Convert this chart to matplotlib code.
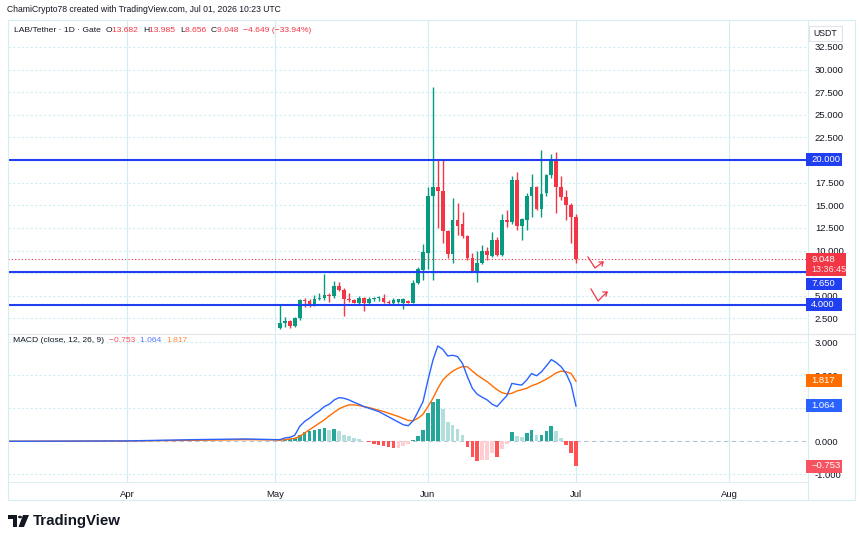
import matplotlib
matplotlib.use('Agg')
import matplotlib.pyplot as plt
import matplotlib.dates as mdates
from matplotlib.lines import Line2D
from matplotlib.patches import Rectangle, Circle, Polygon
import numpy as np
import datetime as dt

plt.rcParams['font.family'] = ['Liberation Sans', 'DejaVu Sans']

# ---------------- data ----------------
first_day = "2026-05-02"
opens  = [1.4, 2.0, 2.2, 1.7, 2.5, 4.5, 4.4, 3.95, 4.6, 4.8,
          5.1, 4.95, 6.1, 5.6, 4.6, 4.5, 4.25, 4.8, 4.25, 4.6,
          4.75, 4.8, 4.3, 4.2, 4.35, 4.25, 4.45, 4.25, 6.4, 7.9,
          9.7, 16.0, 17.0, 16.6, 12.1, 9.6, 13.4, 12.9, 11.6, 9.2,
          7.7, 8.6, 9.9, 9.4, 11.2, 9.5, 13.4, 13.1, 17.8, 12.7,
          13.4, 16.0, 17.0, 14.6, 16.3, 18.3, 19.9, 17.0, 15.9, 15.0,
          13.682]
highs  = [4.0, 2.7, 2.3, 2.6, 4.6, 4.8, 4.6, 5.1, 5.3, 7.4,
          5.3, 6.6, 6.5, 5.9, 5.3, 4.6, 5.0, 4.9, 4.9, 4.9,
          5.0, 5.2, 4.5, 4.7, 4.6, 4.8, 4.5, 6.7, 8.2, 10.7,
          17.0, 28.1, 20.0, 20.0, 12.3, 15.8, 15.2, 14.3, 11.7, 9.7,
          10.0, 10.6, 10.4, 12.0, 11.5, 14.0, 14.5, 18.2, 18.7, 13.6,
          16.4, 18.5, 17.1, 21.1, 18.5, 20.7, 20.9, 18.2, 16.7, 15.2,
          13.985]
lows   = [1.3, 1.5, 1.4, 1.5, 2.3, 3.8, 3.8, 3.9, 4.5, 4.5,
          4.3, 4.8, 5.5, 2.8, 4.3, 4.2, 4.1, 3.3, 4.1, 4.4,
          4.4, 4.2, 4.1, 4.1, 4.2, 3.5, 4.2, 4.2, 6.3, 6.7,
          8.0, 6.7, 12.5, 10.8, 9.2, 8.6, 11.7, 11.4, 9.0, 7.6,
          6.55, 8.5, 8.9, 9.3, 9.4, 9.4, 12.6, 12.9, 12.3, 11.2,
          12.3, 13.7, 14.5, 13.7, 16.0, 18.0, 14.1, 15.6, 13.4, 10.8,
          8.656]
closes = [2.0, 2.2, 1.7, 2.5, 4.5, 4.4, 3.95, 4.6, 4.8, 5.1,
          4.95, 6.1, 5.6, 4.6, 4.5, 4.25, 4.8, 4.25, 4.6, 4.75,
          4.8, 4.3, 4.2, 4.55, 4.6, 4.6, 4.25, 6.4, 8.0, 9.8,
          16.0, 17.0, 16.6, 12.1, 9.6, 13.4, 12.7, 11.6, 9.2, 7.75,
          8.6, 9.9, 9.45, 11.2, 9.5, 13.4, 13.1, 17.8, 12.7, 13.5,
          16.0, 17.0, 14.6, 16.2, 18.3, 19.9, 17.0, 15.9, 15.0, 13.697,
          9.048]

macd_line = [0.05, 0.10, 0.12, 0.18, 0.45, 0.60, 0.70, 0.82, 0.92, 1.05,
             1.12, 1.25, 1.32, 1.30, 1.25, 1.18, 1.12, 1.05, 1.00, 0.95,
             0.90, 0.82, 0.74, 0.66, 0.58, 0.50, 0.47, 0.62, 0.90, 1.20,
             1.85, 2.45, 2.88, 2.78, 2.58, 2.60, 2.56, 2.35, 1.95, 1.60,
             1.42, 1.33, 1.25, 1.12, 1.05, 1.22, 1.38, 1.75, 1.72, 1.70,
             1.85, 2.05, 1.98, 2.10, 2.28, 2.47, 2.38, 2.25, 2.05, 1.72,
             1.064]
signal_line = [0.03, 0.05, 0.07, 0.09, 0.15, 0.25, 0.35, 0.45, 0.55, 0.65,
               0.77, 0.88, 0.98, 1.05, 1.10, 1.10, 1.08, 1.05, 1.02, 0.98,
               0.94, 0.90, 0.85, 0.80, 0.75, 0.69, 0.63, 0.62, 0.70, 0.82,
               1.05, 1.30, 1.60, 1.85, 2.00, 2.12, 2.20, 2.26, 2.25, 2.12,
               2.00, 1.90, 1.80, 1.68, 1.56, 1.47, 1.43, 1.45, 1.52, 1.56,
               1.60, 1.68, 1.73, 1.80, 1.88, 1.97, 2.07, 2.12, 2.10, 2.05,
               1.817]
histogram = [0.02, 0.05, 0.07, 0.10, 0.20, 0.28, 0.30, 0.35, 0.38, 0.40,
             0.35, 0.38, 0.30, 0.20, 0.15, 0.10, 0.06, 0.02, -0.03, -0.08,
             -0.12, -0.15, -0.18, -0.20, -0.19, -0.15, -0.08, 0.05, 0.15, 0.35,
             0.85, 1.18, 1.28, 0.98, 0.58, 0.48, 0.38, 0.18, -0.17, -0.47,
             -0.59, -0.58, -0.57, -0.35, -0.49, -0.22, -0.08, 0.28, 0.15, 0.12,
             0.25, 0.35, 0.18, 0.20, 0.32, 0.46, 0.31, 0.11, -0.12, -0.35,
             -0.753]

# flat MACD values before the candles (sparse readings)
pre_dates  = ["2026-03-08", "2026-04-01", "2026-04-15", "2026-04-25", "2026-05-01"]
pre_macd   = [0.0, 0.01, 0.05, 0.07, 0.05]
pre_signal = [0.0, 0.01, 0.03, 0.05, 0.04]

levels = [20.0, 7.65, 4.0]
last_price = 9.048
countdown = "13:36:45"
price_ticks = [2.5, 5.0, 7.5, 10.0, 12.5, 15.0, 17.5, 20.0, 22.5, 25.0, 27.5, 30.0, 32.5]
hidden_price_ticks = [7.5, 20.0]
macd_ticks = [-1.0, 0.0, 1.0, 2.0, 3.0]
hidden_macd_ticks = [1.0]
month_labels = ["Apr", "May", "Jun", "Jul", "Aug"]
month_starts = ["2026-04-01", "2026-05-01", "2026-06-01", "2026-07-01", "2026-08-01"]

# ---------------- figure ----------------
W, H = 860, 543
fig = plt.figure(figsize=(W / 100, H / 100), dpi=100)
fig.patch.set_facecolor('white')

def fx(px):
    return px / W

def fy(py):
    return 1 - py / H

DARK = '#131722'
UP = '#089981'
DOWN = '#f23645'
BLUE = '#2962ff'
ORANGE = '#ff6d00'
GRID = '#cdeef4'
LEVEL = '#1f3ff0'

ax1 = fig.add_axes([fx(8), fy(333), fx(808) - fx(8), fy(20) - fy(333)])
ax2 = fig.add_axes([fx(8), fy(482), fx(808) - fx(8), fy(334) - fy(482)])

d0 = mdates.date2num(dt.date(2026, 4, 1))
ppd = 4.934
xlim = (d0 - (127 - 8) / ppd, d0 + (808 - 127) / ppd)

base = dt.date.fromisoformat(first_day)
xd = np.array([mdates.date2num(base + dt.timedelta(days=i)) for i in range(len(opens))])
o = np.array(opens); h = np.array(highs); l = np.array(lows); c = np.array(closes)

ms = [mdates.date2num(dt.date.fromisoformat(m)) for m in month_starts]
for ax in (ax1, ax2):
    ax.set_xlim(*xlim)
    for s in ax.spines.values():
        s.set_visible(False)
    ax.set_facecolor('white')
    for m in ms:
        ax.axvline(m, color=GRID, lw=0.8, zorder=0)

# price pane
ax1.set_ylim(20 - 173 / 9.05, 20 + 140 / 9.05)
for t in price_ticks:
    ax1.axhline(t, color=GRID, lw=0.8, ls=(0, (2, 2)), zorder=0)

cols = np.where(c >= o, UP, DOWN)
ax1.vlines(xd, l, h, colors=cols, lw=1.0, zorder=3)
body_lo = np.minimum(o, c)
body_h = np.maximum(np.abs(c - o), 0.1)
ax1.bar(xd, body_h, bottom=body_lo, width=0.75, color=cols, edgecolor='none', zorder=4)

for lv in levels:
    ax1.axhline(lv, color=LEVEL, lw=1.5, zorder=5)
ax1.axhline(last_price, color=DOWN, lw=0.8, ls=(0, (1, 2)), zorder=2)

ax1.yaxis.tick_right()
ax1.set_yticks(price_ticks)
ax1.set_yticklabels(["" if t in hidden_price_ticks else f"{t:.3f}" for t in price_ticks])
ax1.tick_params(axis='y', length=0, labelsize=6.8, colors=DARK, pad=5)
ax1.set_xticks([])

# red hand-drawn arrows
arrows = [[(588, 257), (595, 268), (603, 262)], [(591, 289), (598, 301), (607, 292)]]
for pts in arrows:
    xs = [fx(p[0]) for p in pts]; ys = [fy(p[1]) for p in pts]
    fig.add_artist(Line2D(xs, ys, color='#f23645', lw=0.9, transform=fig.transFigure))
    ex, ey = pts[-1]
    fig.add_artist(Line2D([fx(ex - 4), fx(ex), fx(ex - 1)], [fy(ey), fy(ey), fy(ey + 4)],
                          color='#f23645', lw=0.9, transform=fig.transFigure))

# MACD pane
ax2.set_ylim(-41 / 33.3, 108 / 33.3)
for t in macd_ticks:
    if t == 0:
        ax2.axhline(0, color='#b7c6d4', lw=0.8, ls=(0, (4, 3)), zorder=0)
    else:
        ax2.axhline(t, color=GRID, lw=0.8, ls=(0, (2, 2)), zorder=0)
hist = np.array(histogram)
hcols = []
for i, v in enumerate(hist):
    prev = hist[i - 1] if i > 0 else 0
    if v >= 0:
        hcols.append('#26a69a' if v >= prev else '#b2dfdb')
    else:
        hcols.append('#ff5252' if v < prev else '#ffcdd2')
ax2.bar(xd, hist, width=0.75, color=hcols, edgecolor='none', zorder=2)
pre_x = [mdates.date2num(dt.date.fromisoformat(d)) for d in pre_dates]
ax2.plot(pre_x + list(xd), pre_macd + macd_line, color=BLUE, lw=1.0, zorder=4)
ax2.plot(pre_x + list(xd), pre_signal + signal_line, color=ORANGE, lw=1.0, zorder=3)

ax2.yaxis.tick_right()
ax2.set_yticks(macd_ticks)
ax2.set_yticklabels(["" if t in hidden_macd_ticks else f"{t:.3f}" for t in macd_ticks])
ax2.tick_params(axis='y', length=0, labelsize=6.8, colors=DARK, pad=5)
ax2.set_xticks(ms)
ax2.set_xticklabels(month_labels)
ax2.tick_params(axis='x', length=0, labelsize=6.8, colors=DARK, pad=6)

# frame lines
frame_col = '#d6eef3'
fig.add_artist(Rectangle((fx(8), fy(500)), fx(855) - fx(8), fy(20) - fy(500), fill=False,
                         ec=frame_col, lw=0.8, transform=fig.transFigure))
fig.add_artist(Line2D([fx(808), fx(808)], [fy(20), fy(500)], color=frame_col, lw=0.8,
                      transform=fig.transFigure))
fig.add_artist(Line2D([fx(8), fx(855)], [fy(333.5), fy(333.5)], color='#e3e6ec', lw=0.8,
                      transform=fig.transFigure))
fig.add_artist(Line2D([fx(8), fx(808)], [fy(482), fy(482)], color=frame_col, lw=0.6,
                      transform=fig.transFigure))

# axis label boxes
def box(px_y, text, fc, h_px=13):
    top = px_y - h_px / 2
    fig.add_artist(Rectangle((fx(806), fy(top + h_px)), fx(842) - fx(806), h_px / H,
                             fc=fc, ec='none', transform=fig.transFigure, zorder=20))
    fig.text(fx(811), fy(px_y), text, color='white', fontsize=6.8, va='center', ha='left',
             zorder=21)

box(160, f"{levels[0]:.3f}", LEVEL)
fig.add_artist(Rectangle((fx(806), fy(276)), fx(846) - fx(806), 23 / H,
                         fc='#f23645', ec='none', transform=fig.transFigure, zorder=20))
fig.text(fx(811), fy(259), f"{last_price:.3f}", color='white', fontsize=6.8, va='center', zorder=21)
fig.text(fx(811), fy(269.5), countdown, color='#ffe3e6', fontsize=6.5, va='center', zorder=21)
box(284, f"{levels[1]:.3f}", LEVEL, h_px=12)
box(304.5, f"{levels[2]:.3f}", LEVEL)
box(380.5, f"{signal_line[-1]:.3f}", ORANGE)
box(405.5, f"{macd_line[-1]:.3f}", BLUE)
box(466, "\u2212" + f"{-histogram[-1]:.3f}", '#f7525f')

# USDT box
fig.add_artist(Rectangle((fx(809), fy(41)), fx(842) - fx(809), 15 / H, fc='white',
                         ec='#e0e3eb', lw=0.8, transform=fig.transFigure, zorder=20))
fig.text(fx(825.5), fy(33.5), "USDT", color=DARK, fontsize=6.3, ha='center', va='center', zorder=21)

# header texts
fig.text(fx(7), fy(10), "ChamiCrypto78 created with TradingView.com, Jul 01, 2026 10:23 UTC",
         color=DARK, fontsize=6.25, va='center', ha='left')

renderer = fig.canvas.get_renderer()

def seg_text(x_px, y_px, parts, size):
    cur = x_px
    for s, col in parts:
        t = fig.text(fx(cur), fy(y_px), s, color=col, fontsize=size, va='center', ha='left')
        cur += t.get_window_extent(renderer).width

RED_T = '#f23645'
seg_text(14, 30, [("LAB/Tether \u00b7 1D \u00b7 Gate  ", DARK), ("O", DARK), ("13.682  ", RED_T),
                  ("H", DARK), ("13.985  ", RED_T), ("L", DARK), ("8.656  ", RED_T),
                  ("C", DARK), ("9.048  ", RED_T), ("\u22124.649 (\u221233.94%)", RED_T)], 6.1)
seg_text(13, 341, [("MACD (close, 12, 26, 9)  ", DARK), ("\u22120.753  ", '#f7525f'),
                   ("1.064  ", '#5b7cfa'), ("1.817", '#ff8a3d')], 6.1)

# TradingView logo
LOGO = '#131722'
fig.add_artist(Polygon([(fx(8), fy(515)), (fx(17), fy(515)), (fx(17), fy(527)), (fx(12.5), fy(527)),
                        (fx(12.5), fy(519)), (fx(8), fy(519))], closed=True, fc=LOGO, ec='none',
                       transform=fig.transFigure))
fig.add_artist(Circle((fx(20), fy(517)), 2.0 / W, fc=LOGO, ec='none', transform=fig.transFigure))
fig.add_artist(Polygon([(fx(23), fy(515)), (fx(29), fy(515)), (fx(24), fy(527)), (fx(18.5), fy(527))],
                       closed=True, fc=LOGO, ec='none', transform=fig.transFigure))
fig.text(fx(33), fy(521), "TradingView", color=LOGO, fontsize=10.8, fontweight='bold',
         va='center', ha='left')

fig.savefig('out.png', dpi=100, facecolor='white')
